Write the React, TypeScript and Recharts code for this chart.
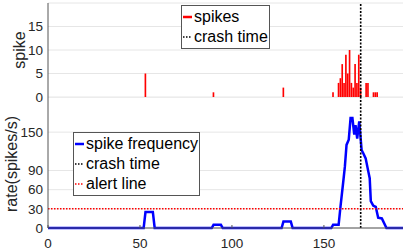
import React from 'react';
import { ComposedChart, Bar, Line, XAxis, YAxis, CartesianGrid, ReferenceLine, Label } from 'recharts';

const FONT = '"Liberation Sans", Arial, Helvetica, sans-serif';
const AXIS = '#555555';
const GRID = '#e6e6e6';
const TEXT = '#262626';

// spike counts per time bin
const spikeTimes = [53, 90, 128, 155, 158, 159, 160, 161, 162, 163, 164, 165, 166, 167, 168, 169, 170, 173, 174, 177, 178, 179];
const spikeCounts = [5, 1, 2, 1, 3, 4, 7, 3, 9, 5, 10, 3, 2, 7, 3, 9, 2, 3, 3, 1, 1, 1];

// spike frequency curve (vertices)
const rateTimes = [0, 52, 53, 57, 58, 89, 90, 94, 95, 127, 128, 132, 133, 154, 155, 158, 159, 160.5, 161.4, 162.3, 163.5, 164.5, 165.5, 166.5, 167.2, 168.1, 169.2, 170.5, 171.4, 172.7, 174.1, 174.9, 175.5, 176.8, 178.2, 179.5, 181.5, 184, 193];
const rateValues = [0, 0, 25, 25, 0, 0, 5, 5, 0, 0, 10, 10, 0, 0, 5, 5, 33, 72, 96, 130, 138, 172, 172, 146, 161, 140, 167, 122, 117, 109, 89, 78, 42, 35, 33, 16, 15, 0, 0];

const xTicks = [0, 50, 100, 150];
const spikeTicks = [0, 5, 10, 15];
const rateTicks = [0, 30, 60, 90, 150];
const crashTime = 170;
const alertLevel = 30;

const spikeData = spikeTimes.map((t, i) => ({ t, count: spikeCounts[i] }));
const rateData = rateTimes.map((t, i) => ({ t, rate: rateValues[i] }));

const XTick = (props: any) => {
  const { x, y, payload } = props;
  return (
    <g>
      <line x1={x} x2={x} y1={y - 10} y2={y - 13} stroke={AXIS} strokeWidth={1} />
      <text x={x} y={y} dy="0.71em" textAnchor="middle" fill={TEXT} fontSize={13.5} fontFamily={FONT}>
        {payload.value}
      </text>
    </g>
  );
};

const YTick = (props: any) => {
  const { x, y, payload } = props;
  return (
    <text x={x} y={y} dy="0.355em" textAnchor="end" fill={TEXT} fontSize={13.5} fontFamily={FONT}>
      {payload.value}
    </text>
  );
};

const yTitle = (text: string, cx: number, cy: number) => () => (
  <text
    x={cx}
    y={cy}
    transform={`rotate(-90 ${cx} ${cy})`}
    textAnchor="middle"
    dominantBaseline="central"
    fill={TEXT}
    fontSize={16}
    fontFamily={FONT}
  >
    {text}
  </text>
);

const Sample = ({ color, dashed, width }: { color: string; dashed?: boolean; width: number }) => (
  <svg width={9} height={4} style={{ display: 'block', marginRight: 2 }}>
    <line x1={0} x2={9} y1={2} y2={2} stroke={color} strokeWidth={width} strokeDasharray={dashed ? '1.5 1.5' : undefined} />
  </svg>
);

const LegendBox = ({ left, top, width, items }: { left: number; top: number; width: number; items: { label: string; color: string; dashed?: boolean; w: number }[] }) => (
  <div
    style={{
      position: 'absolute',
      left,
      top,
      width,
      boxSizing: 'border-box',
      background: '#fff',
      border: '1px solid #555',
      padding: '1px 0 1px 1px',
      fontFamily: FONT,
      fontSize: 16,
      color: '#000',
      zIndex: 3,
    }}
  >
    {items.map((it) => (
      <div key={it.label} style={{ display: 'flex', alignItems: 'center', height: 20, whiteSpace: 'nowrap' }}>
        <Sample color={it.color} dashed={it.dashed} width={it.w} />
        <span>{it.label}</span>
      </div>
    ))}
  </div>
);

export default function App() {
  return (
    <div style={{ position: 'absolute', left: 0, top: 0, width: 407, height: 250, background: '#fff', fontFamily: FONT }}>
      <div style={{ position: 'absolute', left: 0, top: 97, zIndex: 2 }}>
        <ComposedChart id="rate-panel" width={407} height={153} data={rateData} margin={{ top: 0, right: 4, bottom: 0, left: 0 }}>
          <CartesianGrid vertical={false} stroke={GRID} />
          <XAxis
            dataKey="t"
            type="number"
            domain={[0, 193]}
            ticks={xTicks}
            interval={0}
            height={22}
            tickLine={false}
            tickSize={0}
            tickMargin={10}
            tick={<XTick />}
            axisLine={{ stroke: AXIS }}
          />
          <YAxis
            type="number"
            domain={[0, 205]}
            ticks={rateTicks}
            interval={0}
            minTickGap={-100}
            width={48}
            tickLine={false}
            tickSize={0}
            tickMargin={5}
            tick={<YTick />}
            axisLine={{ stroke: AXIS }}
          >
            <Label content={yTitle('rate(spikes/s)', 11.7, 67)} />
          </YAxis>
          <Line type="linear" dataKey="rate" stroke="#0000ff" strokeWidth={2.5} dot={false} isAnimationActive={false} />
          <ReferenceLine y={alertLevel} stroke="#ff0000" strokeWidth={1.5} strokeDasharray="1.5 1.5" />
          <ReferenceLine x={crashTime} stroke="#000" strokeWidth={1.6} strokeDasharray="2 1.5" />
        </ComposedChart>
      </div>
      <div style={{ position: 'absolute', left: 0, top: 0, zIndex: 1 }}>
        <ComposedChart id="spike-panel" width={407} height={112} data={spikeData} margin={{ top: 3, right: 4, bottom: 15, left: 0 }}>
          <CartesianGrid vertical={false} stroke={GRID} />
          <XAxis
            dataKey="t"
            type="number"
            domain={[0, 193]}
            ticks={xTicks}
            tick={false}
            tickLine={false}
            height={0}
            axisLine={{ stroke: AXIS }}
          />
          <YAxis
            type="number"
            domain={[0, 20]}
            ticks={spikeTicks}
            interval={0}
            minTickGap={0}
            width={48}
            tickLine={false}
            tickSize={0}
            tickMargin={5}
            tick={<YTick />}
            axisLine={{ stroke: AXIS }}
          >
            <Label content={yTitle('spike', 19.5, 50)} />
          </YAxis>
          <Bar dataKey="count" fill="#ff0000" barSize={2.6} isAnimationActive={false} />
          <ReferenceLine x={crashTime} stroke="#000" strokeWidth={1.6} strokeDasharray="2 1.5" />
        </ComposedChart>
      </div>
      <LegendBox
        left={181}
        top={5}
        width={89}
        items={[
          { label: 'spikes', color: '#ff0000', w: 2.5 },
          { label: 'crash time', color: '#000', dashed: true, w: 1.5 },
        ]}
      />
      <LegendBox
        left={73}
        top={132}
        width={127}
        items={[
          { label: 'spike frequency', color: '#0000ff', w: 2.5 },
          { label: 'crash time', color: '#000', dashed: true, w: 1.5 },
          { label: 'alert line', color: '#ff0000', dashed: true, w: 1.5 },
        ]}
      />
    </div>
  );
}
